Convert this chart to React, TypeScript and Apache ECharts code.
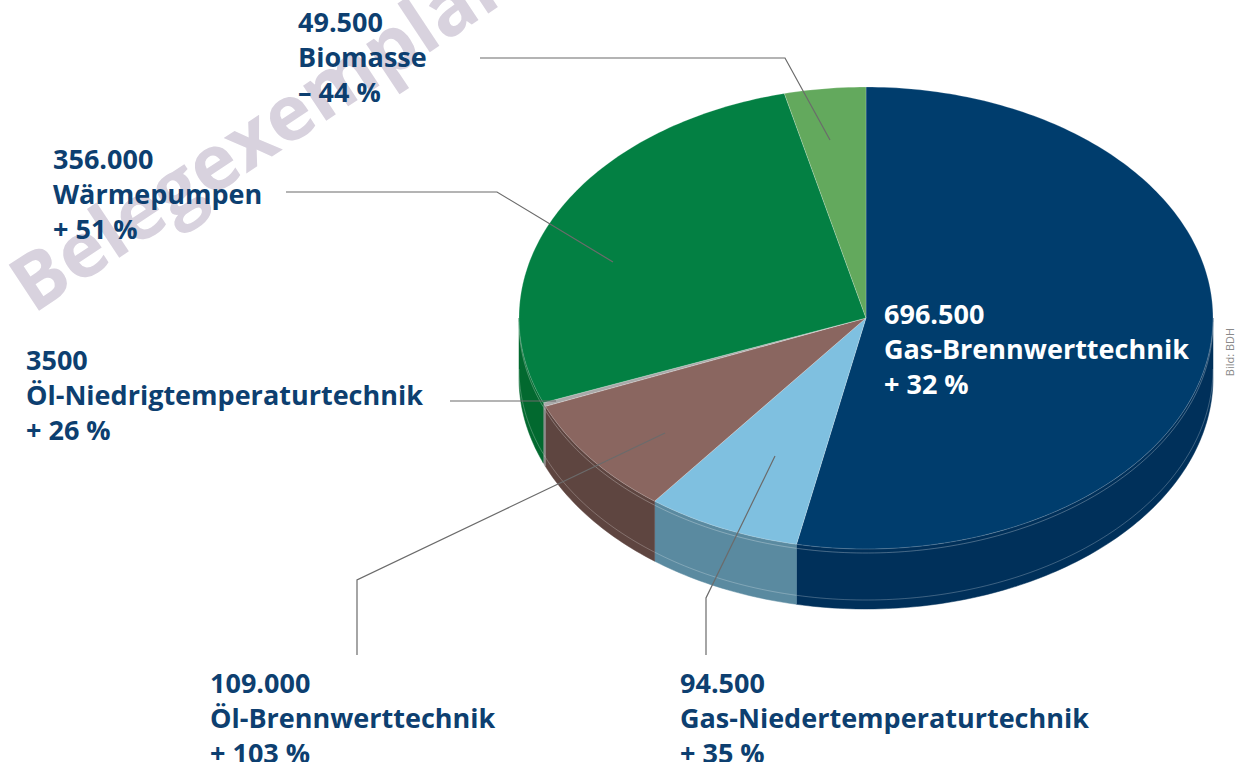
import React, { useEffect, useRef } from "react";
import * as echarts from "echarts";

const categories = [
  "Gas-Brennwerttechnik",
  "Gas-Niedertemperaturtechnik",
  "Öl-Brennwerttechnik",
  "Öl-Niedrigtemperaturtechnik",
  "Wärmepumpen",
  "Biomasse",
];
const values = [696500, 94500, 109000, 3500, 356000, 49500];
const changes = ["+ 32 %", "+ 35 %", "+ 103 %", "+ 26 %", "+ 51 %", "– 44 %"];

const topColors = ["#003d6d", "#7fc0e0", "#8a6660", "#a9a9a9", "#038043", "#63a95d"];
const sideColors = ["#00305a", "#5a8aa0", "#5e4540", "#8c8c8c", "#02692f", "#4a7f45"];

const labelLayout = [
  { x: 884, y: 296, color: "#ffffff", line: null as number[][] | null },
  { x: 680, y: 665, color: "#0d3f70", line: [[706, 655], [706, 598], [775, 456]] },
  { x: 210, y: 665, color: "#0d3f70", line: [[357, 655], [357, 580], [665, 433]] },
  { x: 26, y: 342, color: "#0d3f70", line: [[450, 401], [556, 401]] },
  { x: 53, y: 141, color: "#0d3f70", line: [[286, 192], [497, 192], [613, 262]] },
  { x: 298, y: 4, color: "#0d3f70", line: [[480, 58], [785, 58], [830, 140]] },
];

const CX = 866, CY = 318, RX = 347, RY = 231, DEPTH = 60;

function fmt(v: number) {
  if (v < 10000) return String(v);
  return v.toLocaleString("de-DE");
}

export default function App() {
  const ref = useRef<HTMLDivElement>(null);
  useEffect(() => {
    const chart = echarts.init(ref.current!, null, { renderer: "svg" });
    const total = values.reduce((a, b) => a + b, 0);
    const starts: number[] = [];
    let acc = 0;
    values.forEach((v) => { starts.push(acc); acc += v; });

    const pt = (t: number, d = 0) => [CX + RX * Math.sin(t), CY - RY * Math.cos(t) + d];

    const graphic: any[] = [
      {
        type: "text",
        x: 17,
        y: 290,
        rotation: (33.5 * Math.PI) / 180,
        z: 0,
        style: {
          text: "Belegexemplar",
          font: "bold 77px 'Open Sans'",
          fill: "#d8d2de",
          textAlign: "left",
          textVerticalAlign: "middle",
        },
      },
      {
        type: "text",
        x: 1229,
        y: 352,
        rotation: Math.PI / 2,
        style: {
          text: "Bild: BDH",
          font: "11px 'Open Sans'",
          fill: "#8a8a8a",
          textAlign: "center",
          textVerticalAlign: "middle",
        },
      },
    ];
    labelLayout.forEach((l, i) => {
      if (l.line) {
        graphic.push({
          type: "polyline",
          z: 50,
          shape: { points: l.line },
          style: { stroke: "#6b6b6b", lineWidth: 1.2, fill: null },
        });
      }
      graphic.push({
        type: "text",
        x: l.x,
        y: l.y,
        z: 60,
        style: {
          text: fmt(values[i]) + "\n" + categories[i] + "\n" + changes[i],
          font: "bold 27px 'Open Sans'",
          lineHeight: 35,
          fill: l.color,
          textAlign: "left",
          textVerticalAlign: "top",
        },
      });
    });

    const option: any = {
      animation: false,
      graphic,
      series: [
        {
          type: "custom",
          coordinateSystem: "none",
          z: 10,
          data: values.map((v, i) => ({ name: categories[i], value: [starts[i], starts[i] + v] })),
          renderItem: (params: any, api: any) => {
            const i = params.dataIndex;
            const a0 = (api.value(0) / total) * Math.PI * 2;
            const a1 = (api.value(1) / total) * Math.PI * 2;
            const children: any[] = [];
            const s = Math.max(a0, Math.PI / 2);
            const e = Math.min(a1, (Math.PI * 3) / 2);
            if (e > s) {
              const n = Math.max(2, Math.ceil(((e - s) * 180) / Math.PI));
              const topRim: number[][] = [];
              const botRim: number[][] = [];
              const midRim: number[][] = [];
              const mid2: number[][] = [];
              for (let k = 0; k <= n; k++) {
                const t = s + ((e - s) * k) / n;
                topRim.push(pt(t));
                botRim.push(pt(t, DEPTH));
                midRim.push(pt(t, 4));
                mid2.push(pt(t, DEPTH * 0.85));
              }
              children.push({
                type: "polygon",
                shape: { points: topRim.concat(botRim.slice().reverse()) },
                style: { fill: sideColors[i], stroke: sideColors[i], lineWidth: 0.5 },
              });
              children.push({
                type: "polyline",
                shape: { points: midRim },
                style: { stroke: "rgba(255,255,255,0.35)", lineWidth: 0.8, fill: null },
              });
              children.push({
                type: "polyline",
                shape: { points: mid2 },
                style: { stroke: "rgba(255,255,255,0.3)", lineWidth: 0.8, fill: null },
              });
            }
            const m = Math.max(2, Math.ceil(((a1 - a0) * 180) / Math.PI));
            const pts: number[][] = [[CX, CY]];
            for (let k = 0; k <= m; k++) pts.push(pt(a0 + ((a1 - a0) * k) / m));
            children.push({
              type: "polygon",
              shape: { points: pts },
              style: { fill: topColors[i], stroke: "rgba(255,255,255,0.35)", lineWidth: 0.6 },
            });
            return { type: "group", children };
          },
        },
      ],
    };
    chart.setOption(option);
    return () => chart.dispose();
  }, []);
  return <div ref={ref} style={{ position: "fixed", left: 0, top: 0, width: 1237, height: 762, background: "#fff" }} />;
}
